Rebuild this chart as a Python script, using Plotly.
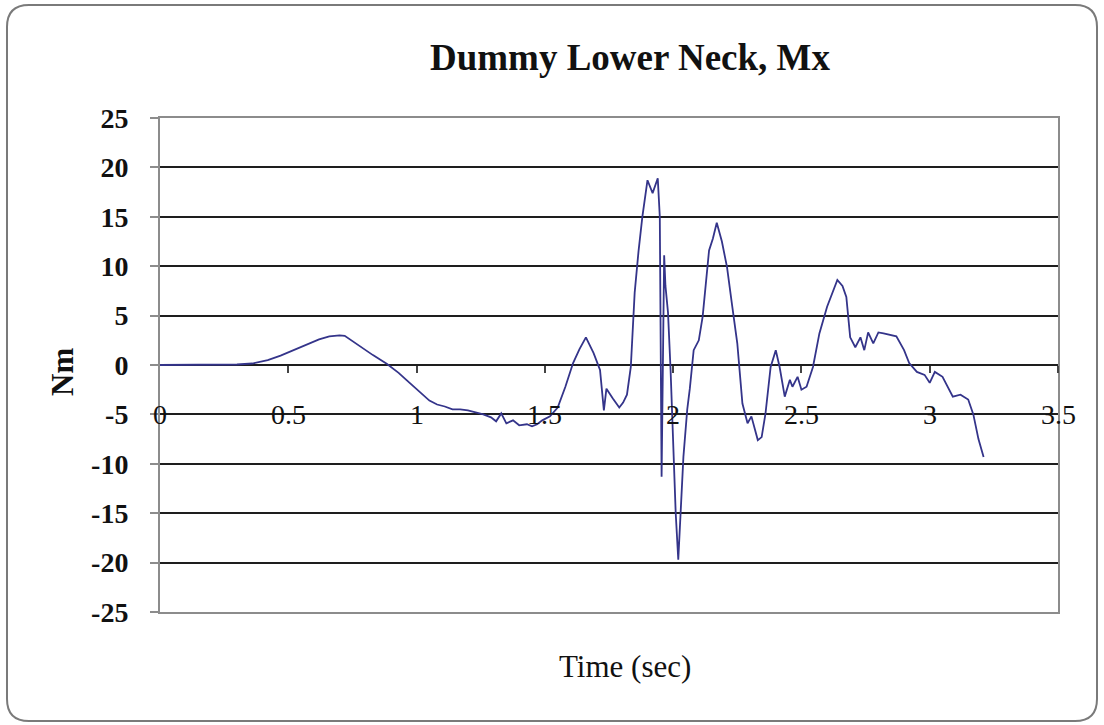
import plotly.graph_objects as go

# ---- data ----
time_s = [0, 0.1, 0.2, 0.3, 0.36, 0.42, 0.47, 0.51, 0.56, 0.62, 0.66, 0.70, 0.72, 0.75, 0.79,
          0.83, 0.885, 0.93, 0.96, 1.0, 1.025, 1.05, 1.08, 1.11, 1.14, 1.17, 1.2, 1.23, 1.26,
          1.29, 1.31, 1.33, 1.35, 1.376, 1.40, 1.43, 1.45, 1.47, 1.49, 1.52, 1.55, 1.58, 1.61,
          1.635, 1.66, 1.69, 1.715, 1.73, 1.74, 1.765, 1.79, 1.805, 1.82, 1.835, 1.85, 1.865,
          1.88, 1.90, 1.92, 1.94, 1.948, 1.955, 1.96, 1.965, 1.97, 1.98, 1.99, 2.0, 2.01, 2.02,
          2.03, 2.04, 2.055, 2.065, 2.08, 2.10, 2.115, 2.13, 2.14, 2.155, 2.17, 2.19, 2.21,
          2.23, 2.25, 2.27, 2.29, 2.305, 2.32, 2.33, 2.345, 2.36, 2.38, 2.40, 2.415, 2.435,
          2.455, 2.465, 2.485, 2.50, 2.52, 2.545, 2.57, 2.60, 2.64, 2.66, 2.675, 2.69, 2.71,
          2.73, 2.745, 2.76, 2.78, 2.80, 2.82, 2.85, 2.87, 2.90, 2.92, 2.95, 2.98, 3.0, 3.02,
          3.05, 3.07, 3.09, 3.12, 3.15, 3.17, 3.19, 3.21]
mx_nm = [0, 0, 0, 0.05, 0.15, 0.5, 0.95, 1.4, 1.9, 2.6, 2.9, 3.0, 2.95, 2.4, 1.7,
         1.0, 0.1, -0.8, -1.5, -2.4, -3.0, -3.6, -4.0, -4.2, -4.5, -4.5, -4.6, -4.8, -5.0,
         -5.3, -5.7, -4.9, -5.9, -5.6, -6.1, -6.0, -6.2, -6.0, -5.6, -5.2, -4.3, -2.2, 0.2,
         1.6, 2.8, 1.2, -0.5, -4.6, -2.4, -3.4, -4.3, -3.8, -3.0, -0.2, 7.3, 11.5,
         15.0, 18.7, 17.4, 18.9, 15.0, -11.3, -2.0, 11.1, 8.0, 5.3, -0.5, -8.0, -15.0, -19.7,
         -14.0, -9.3, -4.5, -2.4, 1.5, 2.5, 4.9, 9.0, 11.6, 12.8, 14.4, 12.5, 9.9,
         6.0, 2.2, -3.9, -5.9, -5.2, -6.8, -7.6, -7.3, -4.9, -0.2, 1.5, -0.2, -3.2,
         -1.5, -2.2, -1.2, -2.5, -2.2, -0.2, 3.2, 5.9, 8.6, 8.0, 6.9, 2.8, 1.8,
         2.8, 1.5, 3.3, 2.2, 3.3, 3.2, 3.0, 2.9, 1.5, 0.2, -0.7, -1.0, -1.8, -0.7,
         -1.2, -2.2, -3.2, -3.0, -3.5, -5.0, -7.5, -9.3]

x_tick_vals = [0, 0.5, 1, 1.5, 2, 2.5, 3, 3.5]
x_tick_text = ["0", "0.5", "1", "1.5", "2", "2.5", "3", "3.5"]
y_tick_vals = [-25, -20, -15, -10, -5, 0, 5, 10, 15, 20, 25]
y_tick_text = ["-25", "-20", "-15", "-10", "-5", "0", "5", "10", "15", "20", "25"]
x_label_row = -5  # tick labels sit on this gridline

title_text = "Dummy Lower Neck, Mx"
x_title = "Time (sec)"
y_title = "Nm"

# ---- layout geometry ----
W, H = 1104, 725
L, R, T, B = 160, 1058, 118, 612
SERIF = "Liberation Serif, Times New Roman, serif"


def px2paper(x, y):
    return (x - L) / (R - L), (B - y) / (B - T)


def rounded_rect_path(x0, y0, x1, y1, r):
    def P(x, y):
        px, py = px2paper(x, y)
        return f"{px:.5f},{py:.5f}"
    return (f"M{P(x0 + r, y0)} L{P(x1 - r, y0)} Q{P(x1, y0)} {P(x1, y0 + r)} "
            f"L{P(x1, y1 - r)} Q{P(x1, y1)} {P(x1 - r, y1)} "
            f"L{P(x0 + r, y1)} Q{P(x0, y1)} {P(x0, y1 - r)} "
            f"L{P(x0, y0 + r)} Q{P(x0, y0)} {P(x0 + r, y0)} Z")


fig = go.Figure()
fig.add_trace(go.Scatter(x=time_s, y=mx_nm, mode="lines",
                         line=dict(color="#34348a", width=1.8),
                         showlegend=False, hoverinfo="skip"))
# invisible helper trace so the crossing axis is drawn
fig.add_trace(go.Scatter(x=[0], y=[0], xaxis="x2", mode="markers",
                         marker=dict(opacity=0), showlegend=False, hoverinfo="skip"))

fig.update_layout(
    width=W, height=H,
    margin=dict(l=L, r=W - R, t=T, b=H - B),
    paper_bgcolor="white", plot_bgcolor="white",
    font=dict(family=SERIF, color="#111111"),
    title=dict(text=f"<b>{title_text}</b>", font=dict(family=SERIF, size=37, color="#111111"),
               x=630 / W, xanchor="center", y=1 - 57 / H, yanchor="middle"),
    xaxis=dict(range=[0, 3.5], showgrid=False, zeroline=False,
               showline=True, linecolor="#8c8c8c", linewidth=2, mirror=True,
               showticklabels=False, ticks=""),
    xaxis2=dict(range=[0, 3.5], overlaying="x", anchor="free", position=0.5,
                showgrid=False, zeroline=False, showline=False,
                tickvals=x_tick_vals[1:], ticks="outside", ticklen=7,
                tickcolor="#444444", tickwidth=1.5, showticklabels=False),
    yaxis=dict(range=[-25, 25], tickvals=y_tick_vals, ticktext=y_tick_text, showgrid=True,
               gridcolor="#1e1e1e", gridwidth=2, zeroline=False,
               showline=True, linecolor="#8c8c8c", linewidth=2, mirror=True,
               ticks="outside", ticklen=8, tickcolor="#8c8c8c", tickwidth=2,
               ticklabelstandoff=16,
               tickfont=dict(family=SERIF, size=28, color="#111111", weight="bold")),
)

fig.add_annotation(text=x_title, xref="paper", yref="paper",
                   x=px2paper(625, 0)[0], y=px2paper(0, 666)[1],
                   showarrow=False, xanchor="center", yanchor="middle",
                   font=dict(family=SERIF, size=31, color="#111111"))
fig.add_annotation(text=f"<b>{y_title}</b>", xref="paper", yref="paper",
                   x=px2paper(62, 0)[0], y=px2paper(0, 372)[1], textangle=-90,
                   showarrow=False, xanchor="center", yanchor="middle",
                   font=dict(family=SERIF, size=31, color="#111111"))

# x tick labels drawn on the -5 gridline
for v, s in zip(x_tick_vals, x_tick_text):
    fig.add_annotation(text=s, x=v, y=x_label_row, xref="x", yref="y",
                       showarrow=False, xanchor="center", yanchor="middle",
                       font=dict(family=SERIF, size=28, color="#111111"))

# outer rounded frame
fig.add_shape(type="path", xref="paper", yref="paper",
              path=rounded_rect_path(7, 5, 1097, 721, 22),
              line=dict(color="#7a7a7a", width=2), layer="below")

fig.write_html("out.html", config={"displayModeBar": False},
               post_script="document.body.style.margin='0px';")
